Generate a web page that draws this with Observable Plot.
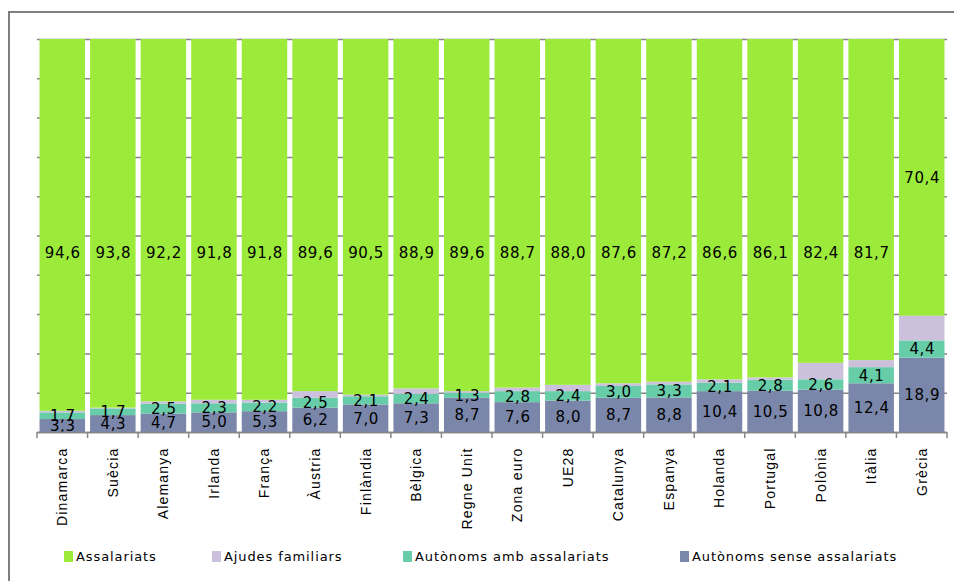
<!DOCTYPE html>
<html>
<head>
<meta charset="utf-8">
<script src="https://cdn.jsdelivr.net/npm/d3@7"></script>
<script src="https://cdn.jsdelivr.net/npm/@observablehq/plot@0.6"></script>
<style>
  html, body { margin: 0; padding: 0; background: #fff; }
  #wrap { position: relative; width: 954px; height: 581px; overflow: hidden; }
  #frame { position: absolute; left: 8px; top: 11px; width: 1000px; height: 620px; border: 2px solid #7f7f7f; box-sizing: border-box; }
  #chart { position: absolute; left: 0; top: 0; }
  #legend { position: absolute; left: 0; top: 549px; width: 954px; height: 20px; font-family: "DejaVu Sans", sans-serif; font-size: 13px; letter-spacing: 0.9px; color: #000; }
  .item { position: absolute; top: 0; display: flex; align-items: center; white-space: nowrap; }
  .sw { width: 9px; height: 11px; margin-right: 3px; }
  #chart g.xaxis text { font-size: 14px; letter-spacing: 1.2px; }
  #chart g.vals text { letter-spacing: 0.6px; }
</style>
</head>
<body>
<div id="wrap">
  <div id="frame"></div>
  <div id="chart"></div>
  <div id="legend"></div>
</div>
<script>
const categories = ["Dinamarca","Suècia","Alemanya","Irlanda","França","Àustria","Finlàndia","Bèlgica","Regne Unit","Zona euro","UE28","Catalunya","Espanya","Holanda","Portugal","Polònia","Itàlia","Grècia"];
const series = ["Autònoms sense assalariats","Autònoms amb assalariats","Ajudes familiars","Assalariats"];
const legendOrder = ["Assalariats","Ajudes familiars","Autònoms amb assalariats","Autònoms sense assalariats"];
const colors = ["#7b87aa","#66cda8","#ccc1dc","#9ceb3a"];
const assalariats = [94.6,93.8,92.2,91.8,91.8,89.6,90.5,88.9,89.6,88.7,88.0,87.6,87.2,86.6,86.1,82.4,81.7,70.4];
const ajudes =      [0.4,0.2,0.6,0.9,0.7,1.7,0.4,1.4,0.4,0.9,1.6,0.7,0.7,0.9,0.6,4.2,1.8,6.3];
const autAmb =      [1.7,1.7,2.5,2.3,2.2,2.5,2.1,2.4,1.3,2.8,2.4,3.0,3.3,2.1,2.8,2.6,4.1,4.4];
const autSense =    [3.3,4.3,4.7,5.0,5.3,6.2,7.0,7.3,8.7,7.6,8.0,8.7,8.8,10.4,10.5,10.8,12.4,18.9];
const yTicks = [0,10,20,30,40,50,60,70,80,90,100];

const valuesBySeries = {
  "Autònoms sense assalariats": autSense,
  "Autònoms amb assalariats": autAmb,
  "Ajudes familiars": ajudes,
  "Assalariats": assalariats
};
const data = [];
series.forEach(s => categories.forEach((c, i) => data.push({cat: c, serie: s, value: valuesBySeries[s][i]})));

const W = 954, ML = 37, MR = 7;
const fmt = v => v.toFixed(1).replace(".", ",");
// In the reference the "Assalariats" labels sit on a common level (except Grècia, centred in its segment)
const assalariatsLabelLevel = 45.5;

const lowerStack = Plot.stackY({x: "cat", y: "value", z: "serie", order: series,
  text: d => (d.serie === "Autònoms sense assalariats" || d.serie === "Autònoms amb assalariats") ? fmt(d.value) : null,
  fill: "#000", fontSize: 15, fontFamily: "DejaVu Sans, sans-serif", className: "vals"});

const topData = data.filter(d => d.serie === "Assalariats");

const chart = Plot.plot({
  width: W,
  height: 540,
  marginLeft: ML,
  marginRight: MR,
  marginTop: 39,
  marginBottom: 108,
  x: {domain: categories, paddingInner: 0.1, paddingOuter: 0.05, round: false, label: null},
  y: {type: "linear", domain: [0, 100], axis: null},
  color: {domain: series, range: colors},
  style: {fontFamily: "Liberation Sans, Arial, sans-serif", background: "transparent"},
  marks: [
    Plot.gridY(yTicks, {stroke: "#868686", strokeOpacity: 1, strokeWidth: 1.5}),
    Plot.barY(data, Plot.stackY({x: "cat", y: "value", z: "serie", fill: "serie", order: series})),
    Plot.text(data, lowerStack),
    Plot.text(topData, {x: "cat", y: d => d.cat === "Grècia" ? 100 - d.value / 2 : assalariatsLabelLevel, text: d => fmt(d.value), fill: "#000", fontSize: 15, fontFamily: "DejaVu Sans, sans-serif", className: "vals"}),
    Plot.ruleY([0], {stroke: "#868686", strokeWidth: 1.5}),
    Plot.axisX({tickSize: 0, tickPadding: 15, tickRotate: -90, fontSize: 14, fill: "#000", className: "xaxis"})
  ]
});
document.getElementById("chart").appendChild(chart);

// Excel-style boundary ticks below the axis, placed with the chart's own scales
const xs = chart.scale("x");
const ys = chart.scale("y");
const y0 = ys.apply(0);
const gap = (xs.step - xs.bandwidth) / 2;
const bounds = categories.map(c => xs.apply(c) - gap).concat([xs.apply(categories[categories.length - 1]) + xs.bandwidth + gap]);
d3.select(chart).append("g").selectAll("line").data(bounds).join("line")
  .attr("x1", d => d).attr("x2", d => d)
  .attr("y1", y0).attr("y2", y0 + 6)
  .attr("stroke", "#868686").attr("stroke-width", 1.5);

const legendX = [64, 212, 403, 680];
const legend = document.getElementById("legend");
legendOrder.forEach((s, i) => {
  const it = document.createElement("div");
  it.className = "item";
  it.style.left = legendX[i] + "px";
  const sw = document.createElement("div");
  sw.className = "sw";
  sw.style.background = colors[series.indexOf(s)];
  const t = document.createElement("span");
  t.textContent = s;
  it.appendChild(sw); it.appendChild(t);
  legend.appendChild(it);
});
</script>
</body>
</html>
